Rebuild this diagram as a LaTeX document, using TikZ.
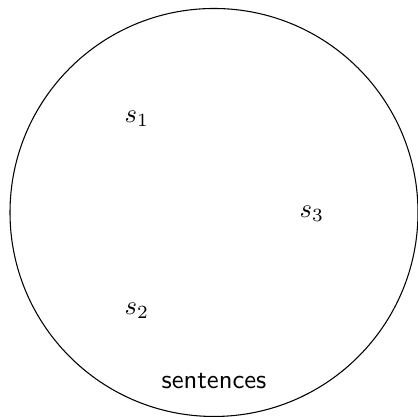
\documentclass[tikz,border=0pt]{standalone}
\usepackage{amsmath,amssymb}
\usepackage{tikz}
\usetikzlibrary{positioning,calc}
\tikzset{
  setcirc/.style={draw=black, thin},
  elem/.style={inner sep=1pt, font=\normalsize},
  setname/.style={font=\sffamily},
}
\begin{document}
\begin{tikzpicture}
  \useasboundingbox (0,0) rectangle (5.518,5.504);
  \coordinate (c) at (2.825,2.699);
  \draw[setcirc] (c) circle (2.693);
  \node[elem] (s1) at (1.808,3.940) {$s_1$};
  \node[elem] (s3) at (4.118,2.680) {$s_3$};
  \node[elem] (s2) at (1.808,1.400) {$s_2$};
  \node[setname] (lbl) at (2.825,0.480) {sentences};
\end{tikzpicture}
\end{document}
